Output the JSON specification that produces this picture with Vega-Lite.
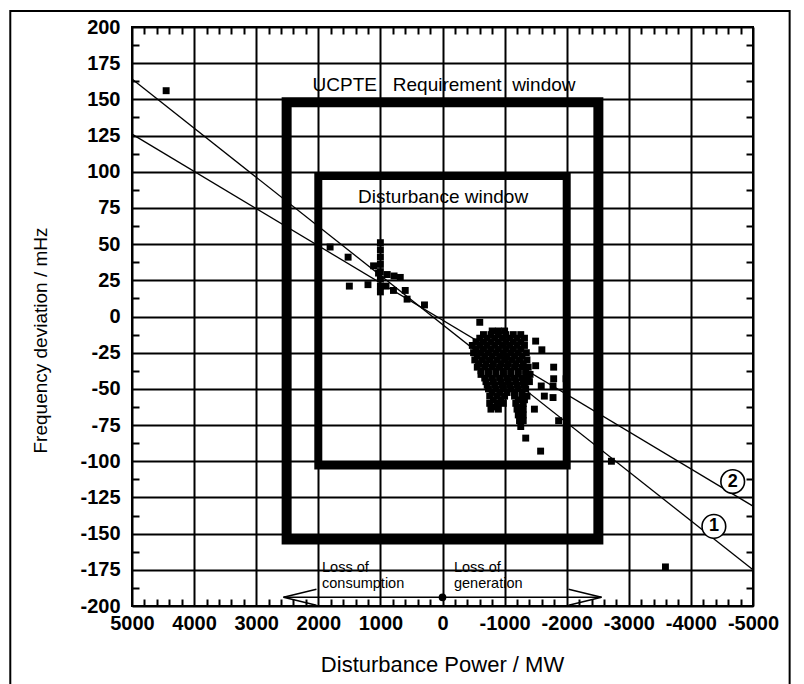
{
  "$schema": "https://vega.github.io/schema/vega-lite/v6.json",
  "width": 621,
  "height": 579,
  "autosize": {"type": "none"},
  "padding": {"left": 132, "top": 27, "right": 51, "bottom": 78},
  "background": "white",
  "config": {
    "font": "Liberation Sans",
    "view": {"stroke": "black", "strokeWidth": 2},
    "axis": {"domainColor": "black", "domainWidth": 2, "tickColor": "black", "tickWidth": 2, "tickOpacity": 1, "gridColor": "black", "gridWidth": 2, "labelColor": "black", "titleColor": "black"}
  },
  "datasets": {
    "points": [
      {"x": 4450, "y": 156},
      {"x": 1810, "y": 48}, {"x": 1520, "y": 41}, {"x": 1500, "y": 21}, {"x": 1200, "y": 22}, {"x": 1110, "y": 35},
      {"x": 1000, "y": 51}, {"x": 1000, "y": 46}, {"x": 1000, "y": 41}, {"x": 1000, "y": 36}, {"x": 1000, "y": 31}, {"x": 1000, "y": 26}, {"x": 1000, "y": 21}, {"x": 1000, "y": 17},
      {"x": 1030, "y": 30}, {"x": 890, "y": 29}, {"x": 780, "y": 28}, {"x": 680, "y": 27}, {"x": 790, "y": 18}, {"x": 600, "y": 18}, {"x": 570, "y": 12}, {"x": 290, "y": 8}, {"x": 910, "y": 21},
      {"x": -600, "y": -4},
      {"x": -800, "y": -10}, {"x": -900, "y": -10}, {"x": -1000, "y": -10},
      {"x": -600, "y": -15}, {"x": -720, "y": -15}, {"x": -840, "y": -15}, {"x": -960, "y": -15}, {"x": -1080, "y": -15}, {"x": -1200, "y": -15}, {"x": -1320, "y": -15},
      {"x": -480, "y": -20}, {"x": -600, "y": -20}, {"x": -720, "y": -20}, {"x": -840, "y": -20}, {"x": -960, "y": -20}, {"x": -1080, "y": -20}, {"x": -1200, "y": -20}, {"x": -1320, "y": -20},
      {"x": -500, "y": -25}, {"x": -620, "y": -25}, {"x": -740, "y": -25}, {"x": -860, "y": -25}, {"x": -980, "y": -25}, {"x": -1100, "y": -25}, {"x": -1220, "y": -25}, {"x": -1350, "y": -25},
      {"x": -520, "y": -30}, {"x": -640, "y": -30}, {"x": -760, "y": -30}, {"x": -880, "y": -30}, {"x": -1000, "y": -30}, {"x": -1120, "y": -30}, {"x": -1240, "y": -30}, {"x": -1360, "y": -30},
      {"x": -560, "y": -35}, {"x": -680, "y": -35}, {"x": -800, "y": -35}, {"x": -920, "y": -35}, {"x": -1040, "y": -35}, {"x": -1160, "y": -35}, {"x": -1280, "y": -35}, {"x": -1380, "y": -35},
      {"x": -620, "y": -40}, {"x": -740, "y": -40}, {"x": -860, "y": -40}, {"x": -980, "y": -40}, {"x": -1100, "y": -40}, {"x": -1220, "y": -40}, {"x": -1340, "y": -40}, {"x": -1410, "y": -40},
      {"x": -700, "y": -45}, {"x": -820, "y": -45}, {"x": -940, "y": -45}, {"x": -1060, "y": -45}, {"x": -1180, "y": -45}, {"x": -1300, "y": -45}, {"x": -1400, "y": -45},
      {"x": -740, "y": -50}, {"x": -860, "y": -50}, {"x": -980, "y": -50}, {"x": -1100, "y": -50}, {"x": -1220, "y": -50}, {"x": -1340, "y": -50},
      {"x": -760, "y": -55}, {"x": -880, "y": -55}, {"x": -1000, "y": -55}, {"x": -1160, "y": -55}, {"x": -1280, "y": -55}, {"x": -1360, "y": -55},
      {"x": -760, "y": -60}, {"x": -880, "y": -60}, {"x": -980, "y": -60}, {"x": -1180, "y": -60}, {"x": -1300, "y": -60},
      {"x": -780, "y": -64}, {"x": -900, "y": -64}, {"x": -1200, "y": -64}, {"x": -1300, "y": -64},
      {"x": -1220, "y": -68}, {"x": -1300, "y": -68}, {"x": -1240, "y": -72}, {"x": -1300, "y": -72}, {"x": -1260, "y": -76},
      {"x": -660, "y": -12.5}, {"x": -780, "y": -12.5}, {"x": -900, "y": -12.5}, {"x": -1020, "y": -12.5}, {"x": -1140, "y": -12.5}, {"x": -1260, "y": -12.5},
      {"x": -540, "y": -17.5}, {"x": -660, "y": -17.5}, {"x": -780, "y": -17.5}, {"x": -900, "y": -17.5}, {"x": -1020, "y": -17.5}, {"x": -1140, "y": -17.5}, {"x": -1260, "y": -17.5},
      {"x": -540, "y": -22.5}, {"x": -660, "y": -22.5}, {"x": -780, "y": -22.5}, {"x": -900, "y": -22.5}, {"x": -1020, "y": -22.5}, {"x": -1140, "y": -22.5}, {"x": -1260, "y": -22.5},
      {"x": -560, "y": -27.5}, {"x": -680, "y": -27.5}, {"x": -800, "y": -27.5}, {"x": -920, "y": -27.5}, {"x": -1040, "y": -27.5}, {"x": -1160, "y": -27.5}, {"x": -1280, "y": -27.5},
      {"x": -580, "y": -32.5}, {"x": -700, "y": -32.5}, {"x": -820, "y": -32.5}, {"x": -940, "y": -32.5}, {"x": -1060, "y": -32.5}, {"x": -1180, "y": -32.5}, {"x": -1300, "y": -32.5},
      {"x": -620, "y": -37.5}, {"x": -740, "y": -37.5}, {"x": -860, "y": -37.5}, {"x": -980, "y": -37.5}, {"x": -1100, "y": -37.5}, {"x": -1220, "y": -37.5}, {"x": -1340, "y": -37.5},
      {"x": -680, "y": -42.5}, {"x": -800, "y": -42.5}, {"x": -920, "y": -42.5}, {"x": -1040, "y": -42.5}, {"x": -1160, "y": -42.5}, {"x": -1280, "y": -42.5}, {"x": -1380, "y": -42.5},
      {"x": -720, "y": -47.5}, {"x": -840, "y": -47.5}, {"x": -960, "y": -47.5}, {"x": -1080, "y": -47.5}, {"x": -1200, "y": -47.5}, {"x": -1320, "y": -47.5},
      {"x": -800, "y": -52.5}, {"x": -920, "y": -52.5}, {"x": -1040, "y": -52.5}, {"x": -1160, "y": -52.5}, {"x": -1280, "y": -52.5},
      {"x": -820, "y": -57.5}, {"x": -940, "y": -57.5}, {"x": -1220, "y": -57.5}, {"x": -1320, "y": -57.5},
      {"x": -840, "y": -62.5}, {"x": -1240, "y": -62.5},
      {"x": -1500, "y": -17}, {"x": -1600, "y": -23}, {"x": -1500, "y": -34}, {"x": -1790, "y": -35}, {"x": -1790, "y": -43}, {"x": -1990, "y": -43},
      {"x": -1590, "y": -48}, {"x": -1780, "y": -48}, {"x": -1640, "y": -55}, {"x": -1780, "y": -56}, {"x": -1480, "y": -64}, {"x": -1870, "y": -72},
      {"x": -1340, "y": -84}, {"x": -1580, "y": -93}, {"x": -2720, "y": -100}, {"x": -3590, "y": -173}
    ],
    "fits": [
      {"x": 5000, "y": 164, "x2": -5000, "y2": -175, "id": "1"},
      {"x": 5000, "y": 126, "x2": -5000, "y2": -131, "id": "2"}
    ],
    "requirement": [{"x": 2510, "y": 148, "x2": -2510, "y2": -154}],
    "disturbance": [{"x": 2000, "y": 97, "x2": -2000, "y2": -103}],
    "arrows": [
      {"x": 2560, "y": -194, "x2": -2560, "y2": -194},
      {"x": 2560, "y": -194, "x2": 2030, "y2": -188.5},
      {"x": 2560, "y": -194, "x2": 2030, "y2": -199.5},
      {"x": -2560, "y": -194, "x2": -2030, "y2": -188.5},
      {"x": -2560, "y": -194, "x2": -2030, "y2": -199.5}
    ],
    "origin": [{"x": 0, "y": -194}],
    "markers": [
      {"x": -4673, "y": -114, "text": "2"},
      {"x": -4370, "y": -145, "text": "1"}
    ],
    "titles": [
      {"x": -25, "y": 160, "text": "UCPTE\u00a0\u00a0 Requirement\u00a0 window"},
      {"x": -10, "y": 82.5, "text": "Disturbance window"}
    ],
    "notes": [
      {"x": 1940, "y": -176.2, "text": "Loss of\nconsumption"},
      {"x": -185, "y": -176.2, "text": "Loss of\ngeneration"}
    ],
    "frame": [{"x": 6960, "y": 211, "x2": -5590, "y2": -262}]
  },
  "layer": [
    {
      "data": {"name": "points"},
      "mark": {"type": "point", "shape": "square", "filled": true, "color": "black", "size": 48, "opacity": 1},
      "encoding": {
        "x": {"field": "x", "type": "quantitative",
          "scale": {"domain": [-5000, 5000], "reverse": true, "nice": false, "zero": false},
          "axis": {"orient": "bottom", "title": "Disturbance Power / MW",
            "values": [-5000,-4000,-3000,-2000,-1000,0,1000,2000,3000,4000,5000],
            "labelExpr": "'' + datum.value",
            "labelFlush": false, "labelOverlap": false, "labelFontSize": 20, "labelFontWeight": "bold", "labelPadding": 7,
            "ticks": false, "domain": false, "grid": true,
            "titleFontSize": 22, "titleFontWeight": "normal", "titleX": 310, "titleY": 58, "titleBaseline": "middle", "titleAlign": "center"}},
        "y": {"field": "y", "type": "quantitative",
          "scale": {"domain": [-200, 200], "nice": false, "zero": false},
          "axis": {"orient": "left", "title": "Frequency deviation / mHz",
            "values": [-200,-175,-150,-125,-100,-75,-50,-25,0,25,50,75,100,125,150,175,200],
            "labelExpr": "'' + datum.value",
            "labelFlush": false, "labelOverlap": false, "labelFontSize": 20, "labelFontWeight": "bold", "labelPadding": 12,
            "ticks": false, "domain": false, "grid": true,
            "titleFontSize": 19, "titleFontWeight": "normal", "titleX": -92, "titleY": 313, "titleAngle": -90, "titleAlign": "center", "titleBaseline": "middle"}}
      }
    },
    {
      "data": {"name": "fits"},
      "mark": {"type": "rule", "color": "black", "strokeWidth": 1.3},
      "encoding": {
        "x": {"field": "x", "type": "quantitative",
          "scale": {"domain": [-5000, 5000], "reverse": true, "nice": false, "zero": false},
          "axis": {"orient": "top", "title": null, "labels": false, "grid": false, "domain": false, "ticks": true, "tickSize": 7, "offset": -7,
            "values": [-4800,-4600,-4400,-4200,-3800,-3600,-3400,-3200,-2800,-2600,-2400,-2200,-1800,-1600,-1400,-1200,-800,-600,-400,-200,200,400,600,800,1200,1400,1600,1800,2200,2400,2600,2800,3200,3400,3600,3800,4200,4400,4600,4800]}},
        "x2": {"field": "x2"},
        "y": {"field": "y", "type": "quantitative",
          "scale": {"domain": [-200, 200], "nice": false, "zero": false},
          "axis": {"orient": "right", "title": null, "labels": false, "grid": false, "domain": false, "ticks": true, "tickSize": 7, "offset": -7,
            "values": [-187.5,-162.5,-137.5,-112.5,-87.5,-62.5,-37.5,-12.5,12.5,37.5,62.5,87.5,112.5,137.5,162.5,187.5]}},
        "y2": {"field": "y2"}
      }
    },
    {
      "data": {"name": "requirement"},
      "mark": {"type": "rect", "filled": false, "stroke": "black", "strokeWidth": 10},
      "encoding": {
        "x": {"field": "x", "type": "quantitative", "scale": {"domain": [-5000, 5000], "reverse": true, "nice": false, "zero": false},
          "axis": {"orient": "bottom", "title": null, "labels": false, "grid": false, "domain": false, "ticks": true, "tickSize": 7, "offset": -7,
            "values": [-4800,-4600,-4400,-4200,-3800,-3600,-3400,-3200,-2800,-2600,-2400,-2200,-1800,-1600,-1400,-1200,-800,-600,-400,-200,200,400,600,800,1200,1400,1600,1800,2200,2400,2600,2800,3200,3400,3600,3800,4200,4400,4600,4800]}},
        "x2": {"field": "x2"},
        "y": {"field": "y", "type": "quantitative", "scale": {"domain": [-200, 200], "nice": false, "zero": false},
          "axis": {"orient": "left", "title": null, "labels": false, "grid": false, "domain": false, "ticks": true, "tickSize": 7, "offset": -7,
            "values": [-187.5,-162.5,-137.5,-112.5,-87.5,-62.5,-37.5,-12.5,12.5,37.5,62.5,87.5,112.5,137.5,162.5,187.5]}},
        "y2": {"field": "y2"}
      }
    },
    {
      "data": {"name": "disturbance"},
      "mark": {"type": "rect", "filled": false, "stroke": "black", "strokeWidth": 8},
      "encoding": {
        "x": {"field": "x", "type": "quantitative", "scale": {"domain": [-5000, 5000], "reverse": true, "nice": false, "zero": false}, "axis": null},
        "x2": {"field": "x2"},
        "y": {"field": "y", "type": "quantitative", "scale": {"domain": [-200, 200], "nice": false, "zero": false}, "axis": null},
        "y2": {"field": "y2"}
      }
    },
    {
      "data": {"name": "arrows"},
      "mark": {"type": "rule", "color": "black", "strokeWidth": 1.5},
      "encoding": {
        "x": {"field": "x", "type": "quantitative", "scale": {"domain": [-5000, 5000], "reverse": true, "nice": false, "zero": false}, "axis": null},
        "x2": {"field": "x2"},
        "y": {"field": "y", "type": "quantitative", "scale": {"domain": [-200, 200], "nice": false, "zero": false}, "axis": null},
        "y2": {"field": "y2"}
      }
    },
    {
      "data": {"name": "origin"},
      "mark": {"type": "circle", "color": "black", "size": 60, "opacity": 1},
      "encoding": {
        "x": {"field": "x", "type": "quantitative", "scale": {"domain": [-5000, 5000], "reverse": true, "nice": false, "zero": false}, "axis": null},
        "y": {"field": "y", "type": "quantitative", "scale": {"domain": [-200, 200], "nice": false, "zero": false}, "axis": null}
      }
    },
    {
      "data": {"name": "markers"},
      "mark": {"type": "point", "shape": "circle", "filled": false, "fill": "white", "fillOpacity": 1, "stroke": "black", "strokeWidth": 1.6, "size": 560, "opacity": 1},
      "encoding": {
        "x": {"field": "x", "type": "quantitative", "scale": {"domain": [-5000, 5000], "reverse": true, "nice": false, "zero": false}, "axis": null},
        "y": {"field": "y", "type": "quantitative", "scale": {"domain": [-200, 200], "nice": false, "zero": false}, "axis": null}
      }
    },
    {
      "data": {"name": "markers"},
      "mark": {"type": "text", "fontSize": 18, "fontWeight": "bold", "color": "black", "align": "center", "baseline": "middle"},
      "encoding": {
        "x": {"field": "x", "type": "quantitative", "scale": {"domain": [-5000, 5000], "reverse": true, "nice": false, "zero": false}, "axis": null},
        "y": {"field": "y", "type": "quantitative", "scale": {"domain": [-200, 200], "nice": false, "zero": false}, "axis": null},
        "text": {"field": "text"}
      }
    },
    {
      "data": {"name": "titles"},
      "mark": {"type": "text", "fontSize": 19, "color": "black", "align": "center", "baseline": "middle"},
      "encoding": {
        "x": {"field": "x", "type": "quantitative", "scale": {"domain": [-5000, 5000], "reverse": true, "nice": false, "zero": false}, "axis": null},
        "y": {"field": "y", "type": "quantitative", "scale": {"domain": [-200, 200], "nice": false, "zero": false}, "axis": null},
        "text": {"field": "text"}
      }
    },
    {
      "data": {"name": "notes"},
      "mark": {"type": "text", "fontSize": 14.5, "color": "black", "align": "left", "baseline": "alphabetic", "lineBreak": "\n", "lineHeight": 16},
      "encoding": {
        "x": {"field": "x", "type": "quantitative", "scale": {"domain": [-5000, 5000], "reverse": true, "nice": false, "zero": false}, "axis": null},
        "y": {"field": "y", "type": "quantitative", "scale": {"domain": [-200, 200], "nice": false, "zero": false}, "axis": null},
        "text": {"field": "text"}
      }
    },
    {
      "data": {"name": "frame"},
      "mark": {"type": "rect", "filled": false, "stroke": "black", "strokeWidth": 2},
      "encoding": {
        "x": {"field": "x", "type": "quantitative", "scale": {"domain": [-5000, 5000], "reverse": true, "nice": false, "zero": false}, "axis": null},
        "x2": {"field": "x2"},
        "y": {"field": "y", "type": "quantitative", "scale": {"domain": [-200, 200], "nice": false, "zero": false}, "axis": null},
        "y2": {"field": "y2"}
      }
    }
  ],
  "resolve": {"axis": {"x": "independent", "y": "independent"}}
}
